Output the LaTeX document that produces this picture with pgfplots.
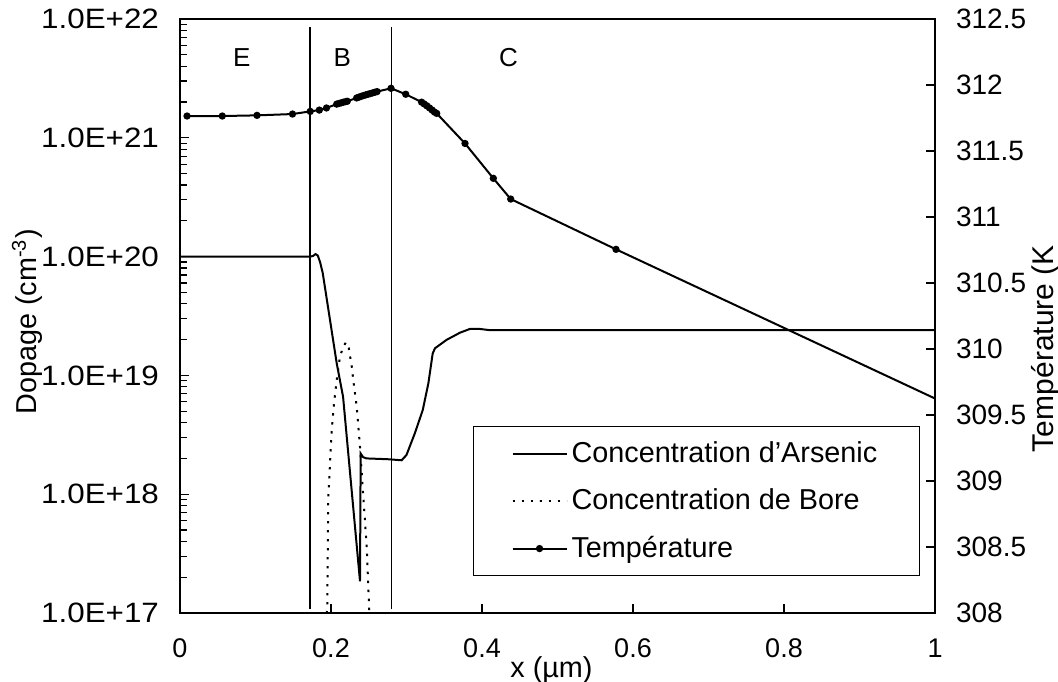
\documentclass[border=0pt]{standalone}
\usepackage{pgfplots}
\pgfplotsset{compat=1.18}
\usepackage{fontspec}
\setmainfont{Liberation Sans}
\newfontfamily\ywideL{Liberation Sans}[FakeStretch=1.12]

\pgfplotstableread{
x y
0 1e20
0.172 1e20
0.176 1.01e20
0.1795 1.05e20
0.1825 1.02e20
0.1855 9e19
0.189 7.3e19
0.2076 1.26e19
0.216 6.6e18
0.2384 1.85e17
0.2393 2.2e18
0.2425 2.05e18
0.247 2.0e18
0.275 1.97e18
0.2936 1.93e18
0.300 2.14e18
0.311 3.25e18
0.3215 5.1e18
0.329 8.6e18
0.3347 1.53e19
0.3377 1.69e19
0.353 1.99e19
0.371 2.29e19
0.384 2.46e19
0.397 2.46e19
0.411 2.4e19
1.0 2.4e19
}\arsenic

\pgfplotstableread{
x y
0.1932 7e16
0.195 1.13e17
0.1964 9.5e17
0.1987 1.82e18
0.2009 3.47e18
0.204 5.8e18
0.2075 9.1e18
0.2119 1.44e19
0.2163 1.75e19
0.2199 1.9e19
0.2235 1.7e19
0.2274 1.2e19
0.2295 9.1e18
0.234 5.5e18
0.2384 2.5e18
0.2428 9.5e17
0.2473 3.6e17
0.2503 1.2e17
0.2515 8e16
}\bore

\pgfplotstableread{
x T
0.0093 311.765
0.056 311.765
0.102 311.77
0.149 311.78
0.1725 311.80
0.1845 311.81
0.194 311.826
0.2075 311.855
0.2105 311.86
0.2135 311.865
0.2165 311.87
0.2195 311.874
0.2215 311.877
0.234 311.902
0.237 311.908
0.240 311.914
0.243 311.92
0.246 311.925
0.249 311.93
0.252 311.935
0.255 311.94
0.258 311.945
0.261 311.95
0.2795 311.975
0.299 311.93
0.320 311.87
0.3235 311.856
0.327 311.842
0.3305 311.826
0.334 311.81
0.337 311.795
0.340 311.785
0.3775 311.557
0.415 311.293
0.438 311.136
0.5775 310.755
}\temp

\pgfplotstableread{
x T
0.5775 310.755
1.0 309.625
}\tempend

\begin{document}
\begin{tikzpicture}
\begin{axis}[
  scale only axis, width=377.5pt, height=297pt,
  xmin=0, xmax=1,
  ymode=log, ymin=1e17, ymax=1e22,
  xtick={0,0.2,0.4,0.6,0.8,1},
  xticklabels={0,0.2,0.4,0.6,0.8,1},
  ytick={1e17,1e18,1e19,1e20,1e21,1e22},
  yticklabels={1.0E+17,1.0E+18,1.0E+19,1.0E+20,1.0E+21,1.0E+22},
  xtick pos=bottom, ytick pos=left, tick align=inside,
  major tick length=4.5pt, minor tick length=3.3pt,
  tick style={black, line width=0.6pt},
  axis line style={black, line width=0.75pt},
  /pgf/number format/assume math mode=true,
  tick label style={font=\fontsize{13.5}{16}\selectfont},
  xticklabel style={yshift=-9.5pt},
  yticklabel style={xshift=-7pt, font=\ywideL\fontsize{14}{17}\selectfont},
  xlabel={x (µm)},
  ylabel={Dopage (cm\textsuperscript{-3})},
  label style={font=\fontsize{14.4}{17}\selectfont},
  xlabel style={at={(axis description cs:0.492,0)}, anchor=center, yshift=-28.5pt},
  ylabel style={at={(axis description cs:-0.2026,0.49)}, anchor=center},
  legend cell align=left,
  legend style={at={(rel axis cs:0.3878,0.3148)}, anchor=north west,
    draw=black, line width=0.75pt, font=\fontsize{14.4}{17}\selectfont,
    row sep=7.75pt, inner xsep=19pt, inner ysep=5.5pt},
  legend image code/.code={\draw[mark repeat=2,mark phase=2,#1] plot coordinates {(0pt,0pt) (13.5pt,0pt) (27pt,0pt)};},
]
\addplot[black, line width=0.7pt, forget plot] coordinates {(0.172,1.08e17) (0.172,8.6e21)};
\addplot[black, line width=0.7pt, forget plot] coordinates {(0.280,1.08e17) (0.280,8.6e21)};
\addplot[black, line width=1pt, no marks] table[x=x,y=y] {\arsenic};
\addlegendentry{Concentration d'Arsenic}
\addplot[black, line width=1pt, no marks, dash pattern=on 1.2pt off 3.3pt] table[x=x,y=y] {\bore};
\addlegendentry{Concentration de Bore}
\addlegendimage{black, line width=1pt, mark=*, mark size=1.3pt}
\addlegendentry{Température}
\node[font=\fontsize{13}{15}\selectfont] at (axis cs:0.0817,4.72e21) {E};
\node[font=\fontsize{13}{15}\selectfont] at (axis cs:0.215,4.72e21) {B};
\node[font=\fontsize{13}{15}\selectfont] at (axis cs:0.435,4.72e21) {C};
\end{axis}
\begin{axis}[
  scale only axis, width=377.5pt, height=297pt,
  xmin=0, xmax=1, ymin=308, ymax=312.5,
  hide x axis, axis y line*=right, axis line style={-, black, line width=0.75pt},
  ytick={308,308.5,309,309.5,310,310.5,311,311.5,312,312.5},
  yticklabels={308,308.5,309,309.5,310,310.5,311,311.5,312,312.5},
  tick align=inside, major tick length=4.5pt,
  tick style={black, line width=0.6pt},
  /pgf/number format/assume math mode=true,
  tick label style={font=\fontsize{14}{17}\selectfont},
  yticklabel style={xshift=7pt},
  ylabel={Température (K},
  label style={font=\fontsize{15}{18}\selectfont},
  ylabel style={at={(axis description cs:1.118,0.445)}, anchor=north, rotate=0},
]
\addplot[black, line width=1pt, mark=*, mark size=1.3pt] table[x=x,y=T] {\temp};
\addplot[black, line width=1pt, no marks] table[x=x,y=T] {\tempend};
\end{axis}
\pgfresetboundingbox
\path[use as bounding box] (-90pt,-34pt) rectangle (439pt,306.5pt);
\end{tikzpicture}
\end{document}
